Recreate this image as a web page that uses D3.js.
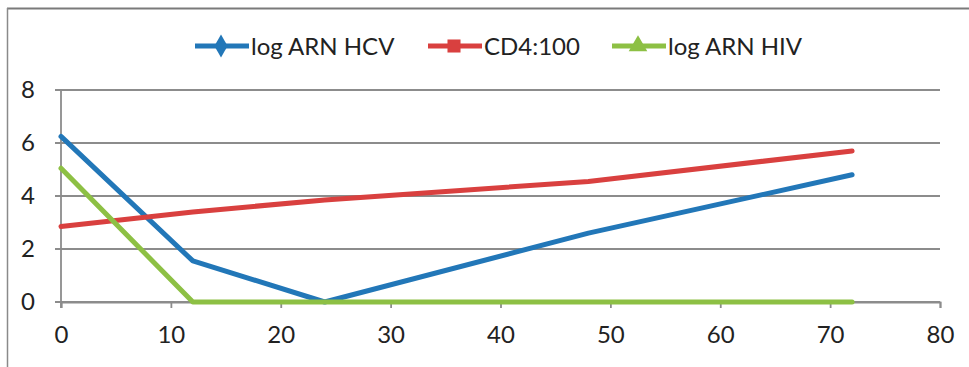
<!DOCTYPE html>
<html>
<head>
<meta charset="utf-8">
<script src="https://cdn.jsdelivr.net/npm/d3@7"></script>
<style>
  html, body { margin: 0; padding: 0; background: #fff; }
  svg { display: block; }
  text { font-family: Lato, "Open Sans", sans-serif; fill: #222; }
</style>
</head>
<body>
<svg id="chart" width="969" height="367"></svg>
<script>
// Time points (x) and the three measured series
const hours = [0, 12, 24, 48, 72];
const hcvLog = [6.25, 1.55, 0, 2.6, 4.8];
const cd4Scaled = [2.85, 3.4, 3.85, 4.55, 5.7];
const hivLog = [5.05, 0, 0, 0, 0];

const seriesNames = ["log ARN HCV", "CD4:100", "log ARN HIV"];
const seriesColors = ["#2277b8", "#d9403f", "#8dc044"];
const seriesMarkers = ["diamond", "square", "triangle"];

const xTicks = [0, 10, 20, 30, 40, 50, 60, 70, 80];
const yTicks = [0, 2, 4, 6, 8];

const svg = d3.select("#chart");
const W = 969, H = 367;
const fontSize = 24;

// outer frame: top and left edges
svg.append("line").attr("x1", 7).attr("x2", W).attr("y1", 8.5).attr("y2", 8.5)
  .attr("stroke", "#7a7a7a").attr("stroke-width", 2);
svg.append("line").attr("x1", 7.5).attr("x2", 7.5).attr("y1", 8).attr("y2", H)
  .attr("stroke", "#8a8a8a").attr("stroke-width", 1.5);

const x = d3.scaleLinear().domain([0, 80]).range([61, 940]);
const y = d3.scaleLinear().domain([0, 8]).range([302, 90]);

// horizontal gridlines
svg.append("g")
  .selectAll("line")
  .data(yTicks)
  .join("line")
  .attr("x1", x(0) - 6).attr("x2", x(80))
  .attr("y1", d => y(d)).attr("y2", d => y(d))
  .attr("stroke", "#8c8c8c").attr("stroke-width", 1.8);

// y axis line
svg.append("line")
  .attr("x1", x(0)).attr("x2", x(0)).attr("y1", y(8)).attr("y2", y(0) + 6)
  .attr("stroke", "#8c8c8c").attr("stroke-width", 1.8);

// x axis with tick marks below
const xAxis = d3.axisBottom(x).tickValues(xTicks).tickSize(6).tickPadding(18).tickFormat(d3.format("d"));
const gx = svg.append("g").attr("transform", `translate(0,${y(0)})`).call(xAxis);
gx.select(".domain").attr("stroke", "#8c8c8c").attr("stroke-width", 1.8);
gx.selectAll(".tick line").attr("stroke", "#8c8c8c").attr("stroke-width", 1.8);
gx.selectAll(".tick text").attr("font-size", fontSize).attr("font-family", "Lato, sans-serif").attr("fill", "#222");

// y axis labels
const yAxis = d3.axisLeft(y).tickValues(yTicks).tickSize(0).tickPadding(26).tickFormat(d3.format("d"));
const gy = svg.append("g").attr("transform", `translate(${x(0)},0)`).call(yAxis);
gy.select(".domain").remove();
gy.selectAll(".tick text").attr("font-size", fontSize).attr("font-family", "Lato, sans-serif").attr("fill", "#222");

// series lines
const line = d3.line().x(d => x(d[0])).y(d => y(d[1]));
const allSeries = [hcvLog, cd4Scaled, hivLog];
allSeries.forEach((vals, i) => {
  svg.append("path")
    .datum(hours.map((h, k) => [h, vals[k]]))
    .attr("d", line)
    .attr("fill", "none")
    .attr("stroke", seriesColors[i])
    .attr("stroke-width", 5)
    .attr("stroke-linejoin", "round")
    .attr("stroke-linecap", "round");
});

// legend
const legendX = [195, 428, 612];
const legendY = 46;
const symbolGen = {
  diamond: d3.symbol().type(d3.symbolDiamond).size(150),
  square: d3.symbol().type(d3.symbolSquare).size(170),
  triangle: d3.symbol().type(d3.symbolTriangle).size(150)
};
const lg = svg.append("g");
seriesNames.forEach((name, i) => {
  const g = lg.append("g").attr("transform", `translate(${legendX[i]},${legendY})`);
  g.append("line").attr("x1", 0).attr("x2", 54).attr("y1", 0).attr("y2", 0)
    .attr("stroke", seriesColors[i]).attr("stroke-width", 5);
  g.append("path").attr("d", symbolGen[seriesMarkers[i]]()).attr("transform", "translate(26,0)")
    .attr("fill", seriesColors[i]);
  g.append("text").attr("x", 56).attr("y", 0).attr("dy", "0.36em")
    .attr("font-size", fontSize).text(name);
});
</script>
</body>
</html>
